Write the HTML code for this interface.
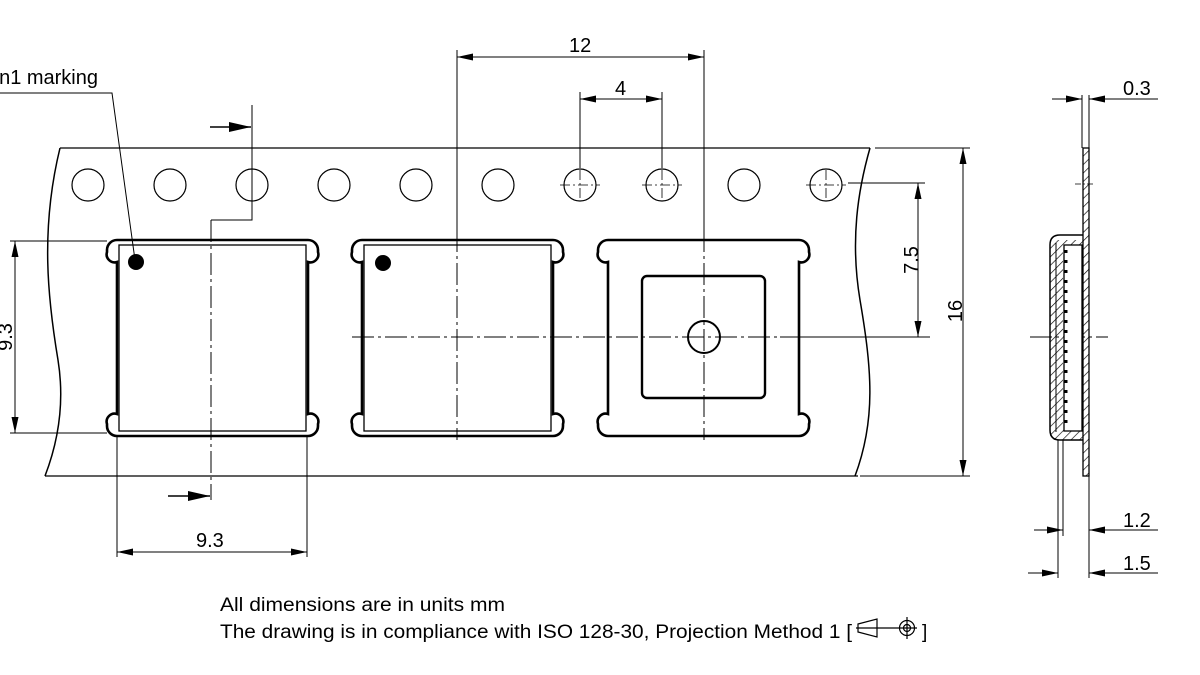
<!DOCTYPE html>
<html><head><meta charset="utf-8"><style>
html,body{margin:0;padding:0;background:#fff;}
svg{display:block;}
text{font-family:"Liberation Sans",Arial,sans-serif;fill:#000;}
</style></head><body>
<svg width="1200" height="675" viewBox="0 0 1200 675" xmlns="http://www.w3.org/2000/svg">
<defs>
<marker id="a" viewBox="0 0 16 7" refX="16" refY="3.5" markerWidth="16" markerHeight="7" orient="auto-start-reverse" markerUnits="userSpaceOnUse"><path d="M0,0 L16,3.5 L0,7 Z" fill="#000"/></marker>
<marker id="b" viewBox="0 0 22 10" refX="22" refY="5" markerWidth="22" markerHeight="10" orient="auto" markerUnits="userSpaceOnUse"><path d="M0,0 L22,5 L0,10 Z" fill="#000"/></marker>
<path id="pk" d="M10 0 H201 A10 10 0 0 1 211 10 V12 A8 8 0 0 1 201 22 V174 A8 8 0 0 1 211 184 V186 A10 10 0 0 1 201 196 H10 A10 10 0 0 1 0 186 V184 A8 8 0 0 1 10 174 V22 A8 8 0 0 1 0 12 V10 A10 10 0 0 1 10 0 Z" fill="none" stroke="#000" stroke-width="2.6"/>
<pattern id="h" width="6" height="6" patternUnits="userSpaceOnUse" patternTransform="rotate(45)"><line x1="0" y1="0" x2="0" y2="6" stroke="#000" stroke-width="1.3"/></pattern>
</defs>
<g fill="none" stroke="#000" stroke-width="1.2">
<path d="M60 148 H870"/>
<path d="M45 476 H858"/>
<path d="M60 148 C40 230 48 300 58 360 C66 410 55 450 45 476" stroke-width="1.5"/>
<path d="M870 148 C858 190 850 240 860 300 C872 370 876 420 855 476" stroke-width="1.5"/>
<circle cx="88" cy="185" r="16"/><circle cx="170" cy="185" r="16"/><circle cx="252" cy="185" r="16"/>
<circle cx="334" cy="185" r="16"/><circle cx="416" cy="185" r="16"/><circle cx="498" cy="185" r="16"/>
<circle cx="580" cy="185" r="16"/><circle cx="662" cy="185" r="16"/><circle cx="744" cy="185" r="16"/>
<circle cx="826" cy="185" r="16"/>
<path d="M560 185 H600 M642 185 H682 M806 185 H846 M580 170 V200 M662 170 V200 M826 170 V200" stroke-width="0.8" stroke-dasharray="10 3 2 3"/>
</g>
<use href="#pk" x="107" y="240"/>
<use href="#pk" x="352" y="240"/>
<use href="#pk" x="598" y="240"/>
<g fill="none" stroke="#000">
<rect x="119" y="245" width="187" height="186" stroke-width="1.3"/>
<rect x="364" y="245" width="187" height="186" stroke-width="1.3"/>
<rect x="642" y="276" width="123" height="122" rx="5" stroke-width="2.4"/>
<circle cx="704" cy="337" r="16" stroke-width="2"/>
</g>
<circle cx="136" cy="262" r="8" fill="#000"/>
<circle cx="383" cy="263" r="8" fill="#000"/>
<g stroke="#000" stroke-width="1" fill="none" stroke-dasharray="22 4 3 4">
<path d="M352 337 H930"/>
<path d="M211 220 V500"/>
<path d="M1030 337 H1108"/>
<path d="M704 230 V440"/>
<path d="M457 230 V440"/>
</g>
<g stroke="#000" stroke-width="1" fill="none">
<path d="M252 105 V220 H211"/>
<path d="M210 127 H251" stroke-width="1.5" marker-end="url(#b)"/>
<path d="M168 496 H210" stroke-width="1.5" marker-end="url(#b)"/>
<path d="M457 50 V230 M704 50 V230"/>
<path d="M457 57 H704" marker-start="url(#a)" marker-end="url(#a)"/>
<path d="M580 92 V168 M662 92 V168"/>
<path d="M580 99 H662" marker-start="url(#a)" marker-end="url(#a)"/>
<path d="M117 436 V557 M307 436 V557"/>
<path d="M117 552 H307" marker-start="url(#a)" marker-end="url(#a)"/>
<path d="M10 241 H107 M10 433 H107"/>
<path d="M15 241 V433" marker-start="url(#a)" marker-end="url(#a)"/>
<path d="M848 183 H925 M780 337 H925"/>
<path d="M918 183 V337" marker-start="url(#a)" marker-end="url(#a)"/>
<path d="M875 148 H970 M860 476 H970"/>
<path d="M963 148 V476" marker-start="url(#a)" marker-end="url(#a)"/>
<path d="M0 93 H112 L135 260"/>
</g>
<g stroke="#000" fill="none">
<rect x="1083" y="148" width="6" height="328" fill="url(#h)" stroke-width="1.3"/>
<path d="M1050 240 H1083 V247 H1063 V428 H1083 V440 H1050 Z" fill="url(#h)" stroke="none"/>
<path d="M1083 235 H1060 Q1050 235 1050 245 V430 Q1050 440 1060 440 H1083" stroke-width="1.5"/>
<path d="M1056 243 V432" stroke-width="1"/>
<rect x="1064" y="245" width="18" height="186" fill="#fff" stroke-width="1.3"/>
<path d="M1066 250 V428" stroke-width="3" stroke-dasharray="3 7"/>
<path d="M1075 184 H1093" stroke-width="0.8" stroke-dasharray="6 2 2 2"/>
<path d="M1082 95 V148 M1089 95 V148" stroke-width="1"/>
<path d="M1052 99 H1082" marker-end="url(#a)" stroke-width="1"/>
<path d="M1158 99 H1089" marker-end="url(#a)" stroke-width="1"/>
<path d="M1063 440 V536 M1089 476 V578 M1058 440 V578" stroke-width="1"/>
<path d="M1034 530 H1063" marker-end="url(#a)" stroke-width="1"/>
<path d="M1158 530 H1089" marker-end="url(#a)" stroke-width="1"/>
<path d="M1028 573 H1058" marker-end="url(#a)" stroke-width="1"/>
<path d="M1158 573 H1089" marker-end="url(#a)" stroke-width="1"/>
</g>
<text x="98" y="84" font-size="20" text-anchor="end">Pin1 marking</text>
<text x="569" y="52" font-size="20">12</text>
<text x="615" y="95" font-size="20">4</text>
<text x="196" y="547" font-size="20">9.3</text>
<text transform="translate(12 337) rotate(-90)" text-anchor="middle" font-size="20">9.3</text>
<text transform="translate(918 260) rotate(-90)" text-anchor="middle" font-size="20">7.5</text>
<text transform="translate(962 311) rotate(-90)" text-anchor="middle" font-size="20">16</text>
<text x="1123" y="95" font-size="20">0.3</text>
<text x="1123" y="527" font-size="20">1.2</text>
<text x="1123" y="570" font-size="20">1.5</text>
<text x="220" y="611" font-size="19" textLength="285" lengthAdjust="spacingAndGlyphs">All dimensions are in units mm</text>
<text x="220" y="638" font-size="19" textLength="632" lengthAdjust="spacingAndGlyphs">The drawing is in compliance with ISO 128-30, Projection Method 1 [</text>
<g stroke="#000" stroke-width="1.2" fill="none">
<path d="M858 624 L877 619 V637 L858 632 Z M856 628 H917"/>
<circle cx="907" cy="628" r="7.5"/><circle cx="907" cy="628" r="3.5"/><path d="M907 617 V639"/>
</g>
<text x="922" y="638" font-size="19">]</text>
</svg>
</body></html>
